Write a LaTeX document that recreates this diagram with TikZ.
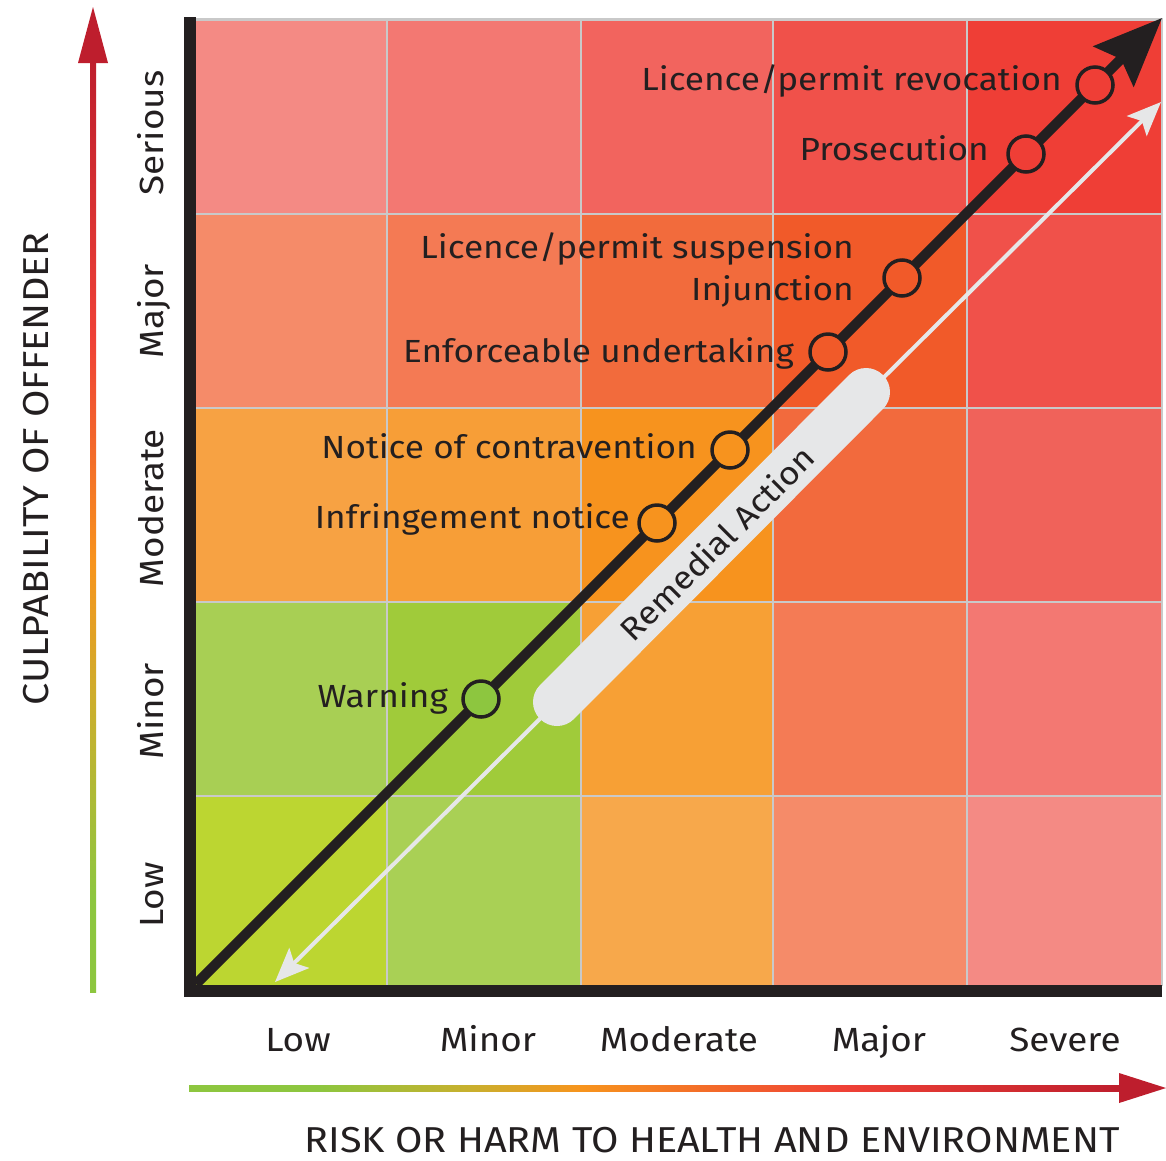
\documentclass[tikz,border=0pt]{standalone}
\usepackage{fontspec}
\setmainfont{Fira Sans}[FakeStretch=1.1]
\usetikzlibrary{arrows.meta}
\definecolor{ink}{HTML}{231F20}
\definecolor{gridc}{HTML}{C9C9C9}
\definecolor{pale}{HTML}{E6E7E8}
\definecolor{warnfill}{HTML}{8DC63F}
\definecolor{gA}{HTML}{8DC63F}
\definecolor{gB}{HTML}{C8B02E}
\definecolor{oA}{HTML}{F7941D}
\definecolor{rA}{HTML}{EF4136}
\definecolor{rB}{HTML}{BE1E2D}
% cells: row (1 = bottom) , column (1 = left)
\definecolor{c51}{HTML}{F48A84}\definecolor{c52}{HTML}{F37872}\definecolor{c53}{HTML}{F2645E}\definecolor{c54}{HTML}{F0514A}\definecolor{c55}{HTML}{EF3E36}
\definecolor{c41}{HTML}{F58B69}\definecolor{c42}{HTML}{F47A54}\definecolor{c43}{HTML}{F26B3C}\definecolor{c44}{HTML}{F15A29}\definecolor{c45}{HTML}{F0514A}
\definecolor{c31}{HTML}{F7A243}\definecolor{c32}{HTML}{F79E37}\definecolor{c33}{HTML}{F7931E}\definecolor{c34}{HTML}{F26A3D}\definecolor{c35}{HTML}{F0625A}
\definecolor{c21}{HTML}{A8CF54}\definecolor{c22}{HTML}{A0CB3A}\definecolor{c23}{HTML}{F7A035}\definecolor{c24}{HTML}{F47B55}\definecolor{c25}{HTML}{F37872}
\definecolor{c11}{HTML}{BCD631}\definecolor{c12}{HTML}{A9D055}\definecolor{c13}{HTML}{F7A84B}\definecolor{c14}{HTML}{F58B69}\definecolor{c15}{HTML}{F48A84}
\pgfdeclarehorizontalshading{riskgrad}{100bp}{color(0bp)=(gA); color(25bp)=(gA); color(32bp)=(gA); color(40bp)=(gB); color(46bp)=(oA); color(60bp)=(rA); color(75bp)=(rB); color(100bp)=(rB)}
\pgfdeclareverticalshading{culpgrad}{100bp}{color(0bp)=(gA); color(25bp)=(gA); color(30bp)=(gA); color(40bp)=(gB); color(48bp)=(oA); color(60bp)=(rA); color(75bp)=(rB); color(100bp)=(rB)}
\begin{document}
\begin{tikzpicture}[x=1pt,y=-1pt,
  lbl/.style={text=ink, inner sep=0pt, font=\fontsize{32}{38}\selectfont},
  axlbl/.style={text=ink, inner sep=0pt, font=\fontsize{33.5}{40}\selectfont},
  ttl/.style={text=ink, inner sep=0pt, font=\fontsize{36}{42}\selectfont},
  gridline/.style={draw=gridc, line width=2.5pt},
  stop/.style={circle, draw=ink, line width=3.5pt, minimum size=36pt, inner sep=0pt},
  remline/.style={draw=pale, line width=4pt}]
\useasboundingbox (0,0) rectangle (1166,1160);
\fill[white] (0,0) rectangle (1166,1160);
% cells
\foreach \c/\xa/\xb in {1/190/387,2/387/581,3/581/773,4/773/967,5/967/1162}{
  \foreach \r/\ya/\yb in {5/18/214,4/214/408,3/408/602,2/602/796,1/796/990}{
    \fill[c\r\c] (\xa,\ya) rectangle (\xb,\yb);
  }
}
% grid
\foreach \x in {387,581,773,967}{\draw[gridline] (\x,19) -- (\x,986);}
\foreach \y in {214,408,602,796}{\draw[gridline] (195,\y) -- (1162,\y);}
\draw[gridline] (190,19.5) -- (1162,19.5) -- (1162,986);
% axes
\draw[draw=ink, line width=12pt, miter limit=10] (189.5,17) -- (189.5,991) -- (1162,991);
% remedial arrow and band
\coordinate (wb) at (275,982);
\coordinate (wa) at (1161,102);
\draw[remline, {Stealth[length=34pt,width=28pt,inset=7pt]}-{Stealth[length=34pt,width=28pt,inset=7pt]}] (wb) -- (wa);
\coordinate (pa) at (557,702);
\coordinate (pb) at (866,392);
\draw[draw=pale, line width=48pt, line cap=round] (pa) -- (pb);
\node[lbl, rotate=45] (rem) at (717,543) {Remedial Action};
% enforcement line
\coordinate (origin) at (196,984);
\coordinate (tip) at (1162,18);
\draw[draw=ink, line width=10pt, -{Stealth[length=68pt,width=56pt,inset=10pt]}] (origin) -- (tip);
% stops
\node[stop, fill=warnfill] (warn) at (481,699) {};
\node[stop, fill=c33] (infr) at (657,523) {};
\node[stop, fill=c33] (contra) at (730,450) {};
\node[stop, fill=c44] (enf) at (828,352) {};
\node[stop, fill=c44] (susp) at (902,278) {};
\node[stop, fill=c55] (pros) at (1026,154) {};
\node[stop, fill=c55] (revo) at (1095,85) {};
% stop labels
\node[lbl, anchor=base east] (lrevo) at (1062,90) {Licence/permit revocation};
\node[lbl, anchor=base east] (lpros) at (989,160) {Prosecution};
\node[lbl, anchor=base east] (lsusp) at (854,258) {Licence/permit suspension};
\node[lbl, anchor=base east] (linj) at (854,300) {Injunction};
\node[lbl, anchor=base east] (lenf) at (794,362) {Enforceable undertaking};
\node[lbl, anchor=base east] (lcontra) at (697,458) {Notice of contravention};
\node[lbl, anchor=base east] (linfr) at (630,528) {Infringement notice};
\node[lbl, anchor=base east] (lwarn) at (448,707) {Warning};
% culpability labels
\node[axlbl, rotate=90, anchor=base] (ys) at (163,133) {Serious};
\node[axlbl, rotate=90, anchor=base] (yj) at (163,311) {Major};
\node[axlbl, rotate=90, anchor=base] (ym) at (163,508) {Moderate};
\node[axlbl, rotate=90, anchor=base] (yn) at (163,711) {Minor};
\node[axlbl, rotate=90, anchor=base] (yl) at (163,895) {Low};
% risk labels
\node[axlbl, anchor=base] (xl) at (298,1051) {Low};
\node[axlbl, anchor=base] (xn) at (488,1051) {Minor};
\node[axlbl, anchor=base] (xm) at (679,1051) {Moderate};
\node[axlbl, anchor=base] (xj) at (879,1051) {Major};
\node[axlbl, anchor=base] (xs) at (1065,1051) {Severe};
% gradient arrows
\shade[shading=culpgrad] (90,992) rectangle (96,60);
\fill[rB] (93,7) -- (78,63) -- (108,63) -- cycle;
\shade[shading=riskgrad] (189,1085) rectangle (1122,1091);
\fill[rB] (1166,1088) -- (1119,1073) -- (1119,1103) -- cycle;
\node[ttl, rotate=90, anchor=base] (culp) at (48,469) {CULPABILITY OF OFFENDER};
\node[ttl, anchor=base] (risk) at (712,1152) {RISK OR HARM TO HEALTH AND ENVIRONMENT};
\end{tikzpicture}
\end{document}
